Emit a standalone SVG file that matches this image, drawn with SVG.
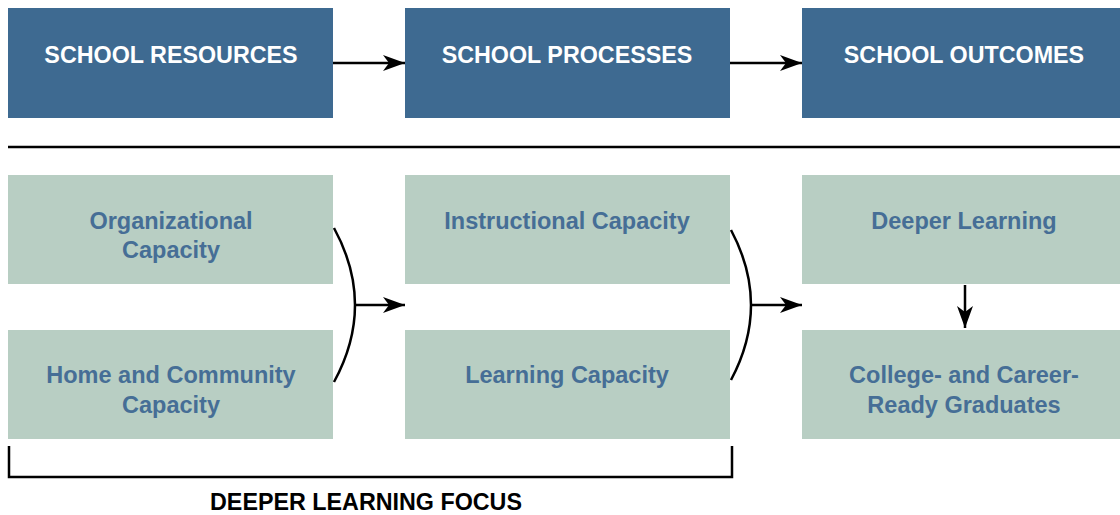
<svg xmlns="http://www.w3.org/2000/svg" width="1120" height="515" viewBox="0 0 1120 515">
<style>
.dark{fill:#3e6a91}
.light{fill:#b8cec3}
.hd{font-family:"Liberation Sans",Arial,sans-serif;font-weight:bold;font-size:23.3px;fill:#ffffff;text-anchor:middle}
.lb{font-family:"Liberation Sans",Arial,sans-serif;font-weight:bold;font-size:23.5px;fill:#466e96;text-anchor:middle}
.ln{stroke:#000;stroke-width:2.5;fill:none}
.focus{font-family:"Liberation Sans",Arial,sans-serif;font-weight:bold;font-size:23.3px;fill:#000;text-anchor:middle}
</style>
<defs>
<marker id="ah" viewBox="0 0 22 16" refX="22" refY="8" markerWidth="22" markerHeight="16" markerUnits="userSpaceOnUse" orient="auto">
<path d="M0,0 L22,8 L0,16 L6,8 Z" fill="#000"/>
</marker>
</defs>
<g id="node-resources"><rect class="dark" x="8" y="8" width="325" height="110"/><text class="hd" x="171" y="63">SCHOOL RESOURCES</text></g>
<g id="node-processes"><rect class="dark" x="405" y="8" width="325" height="110"/><text class="hd" x="567" y="63">SCHOOL PROCESSES</text></g>
<g id="node-outcomes"><rect class="dark" x="802" y="8" width="318" height="110"/><text class="hd" x="964" y="63">SCHOOL OUTCOMES</text></g>
<g id="node-org"><rect class="light" x="8" y="175" width="325" height="109"/><text class="lb" x="171" y="229">Organizational</text><text class="lb" x="171" y="258">Capacity</text></g>
<g id="node-home"><rect class="light" x="8" y="330" width="325" height="109"/><text class="lb" x="171" y="383">Home and Community</text><text class="lb" x="171" y="413">Capacity</text></g>
<g id="node-instr"><rect class="light" x="405" y="175" width="325" height="109"/><text class="lb" x="567" y="229">Instructional Capacity</text></g>
<g id="node-learn"><rect class="light" x="405" y="330" width="325" height="109"/><text class="lb" x="567" y="383">Learning Capacity</text></g>
<g id="node-deeper"><rect class="light" x="802" y="175" width="318" height="109"/><text class="lb" x="964" y="229">Deeper Learning</text></g>
<g id="node-ready"><rect class="light" x="802" y="330" width="318" height="109"/><text class="lb" x="964" y="383">College- and Career-</text><text class="lb" x="964" y="413">Ready Graduates</text></g>
<g id="connectors">
<line class="ln" x1="333" y1="63" x2="405" y2="63" marker-end="url(#ah)"/>
<line class="ln" x1="730" y1="63" x2="802" y2="63" marker-end="url(#ah)"/>
<line class="ln" x1="8" y1="147" x2="1120" y2="147"/>
<path class="ln" d="M334,228 Q376,305 334,382"/>
<line class="ln" x1="355" y1="305" x2="405" y2="305" marker-end="url(#ah)"/>
<path class="ln" d="M731,230 Q771,305 731,380"/>
<line class="ln" x1="751" y1="305" x2="802" y2="305" marker-end="url(#ah)"/>
<line class="ln" x1="965" y1="285" x2="965" y2="328" marker-end="url(#ah)"/>
<path class="ln" d="M9,446 V477 H732 V446"/>
</g>
<text class="focus" x="366" y="510">DEEPER LEARNING FOCUS</text>
</svg>
